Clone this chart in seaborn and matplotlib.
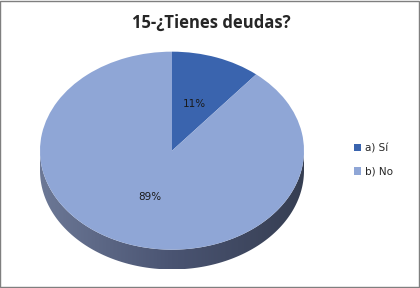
import numpy as np
import matplotlib
matplotlib.use("Agg")
from matplotlib import pyplot as plt
from matplotlib.patches import Rectangle, PathPatch
from matplotlib.path import Path
import seaborn as sns

labels = ["a) Sí", "b) No"]
values = [11, 89]
colors = ["#3a64ae", "#8fa6d6"]
title = "15-¿Tienes deudas?"

sns.set_style("white")
plt.rcParams["font.family"] = ["DejaVu Sans"]

fig = plt.figure(figsize=(4.2, 2.88), dpi=100)
ax = fig.add_axes([40 / 420, 0.03, 264 / 420, 0.825])
ax.axis("off")

# side of the 3D disc with a left-to-right gradient
depth = 0.2
t = np.linspace(np.pi, 2 * np.pi, 200)
upper = np.column_stack([np.cos(t), np.sin(t)])
lower = np.column_stack([np.cos(t[::-1]), np.sin(t[::-1]) - depth])
verts = np.vstack([upper, lower, upper[:1]])
side = PathPatch(Path(verts, closed=True), facecolor="none", edgecolor="none")
ax.add_patch(side)
grad = np.linspace(0, 1, 256).reshape(1, -1)
cmap = matplotlib.colors.LinearSegmentedColormap.from_list("side", ["#6c7896", "#4a5472", "#363e52"])
im = ax.imshow(grad, extent=[-1, 1, -1 - depth, 0], cmap=cmap, aspect="auto", zorder=1)
im.set_clip_path(side)

wedges, texts, autotexts = ax.pie(values, colors=colors, startangle=90, counterclock=False,
                                  autopct="%1.0f%%", pctdistance=0.5, radius=1.0,
                                  wedgeprops=dict(linewidth=0), textprops=dict(fontsize=7.5, color="#1a1a1a"))
for w in wedges:
    w.set_zorder(2)
for a in autotexts:
    a.set_zorder(3)
ax.set_xlim(-1.0, 1.0)
ax.set_ylim(-1.3, 1.1)
ax.set_aspect("auto")

fig.text(0.502, 0.922, title, ha="center", va="center", fontsize=12, fontweight="bold",
         family=["Open Sans", "DejaVu Sans"])

fig.legend(wedges, labels, loc="center left", bbox_to_anchor=(0.82, 0.445), frameon=False,
           fontsize=7.5, handlelength=0.7, handleheight=0.7, handletextpad=0.4, labelspacing=1.3)

fig.patches.append(Rectangle((0.001, 0.002), 0.997, 0.995, transform=fig.transFigure,
                             fill=False, edgecolor="#7f7f7f", linewidth=1))

plt.savefig("out.png", dpi=100)
